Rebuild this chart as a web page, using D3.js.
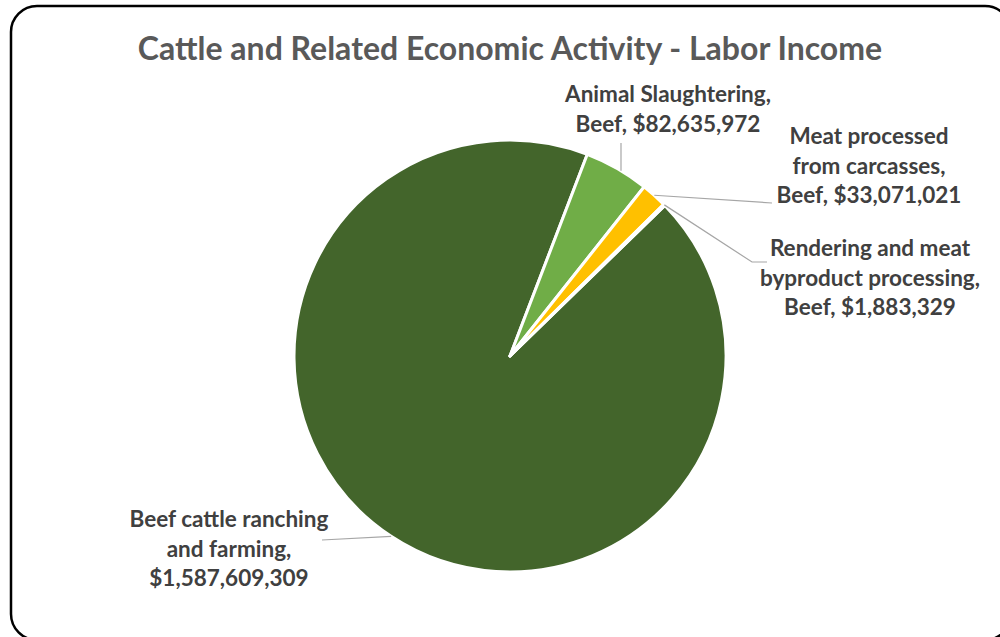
<!DOCTYPE html>
<html>
<head>
<meta charset="utf-8">
<script src="https://cdn.jsdelivr.net/npm/d3@7"></script>
<style>
  html, body { margin: 0; padding: 0; background: #fff; }
  svg { display: block; }
</style>
</head>
<body>
<svg id="chart" width="1000" height="637"></svg>
<script>
// Labor income by activity (USD)
const categories = [
  "Beef cattle ranching and farming",
  "Animal Slaughtering, Beef",
  "Meat processed from carcasses, Beef",
  "Rendering and meat byproduct processing, Beef"
];
const values = [1587609309, 82635972, 33071021, 1883329];
const labelLines = [
  ["Beef cattle ranching", "and farming,", "$1,587,609,309"],
  ["Animal Slaughtering,", "Beef, $82,635,972"],
  ["Meat processed", "from carcasses,", "Beef, $33,071,021"],
  ["Rendering and meat", "byproduct processing,", "Beef, $1,883,329"]
];
const colors = ["#43652B", "#70AD47", "#FFC000", "#8C8C8C"];

const title = "Cattle and Related Economic Activity - Labor Income";

const W = 1000, H = 637;
const cx = 510, cy = 356, R = 216;
const startDeg = 45.8;

const svg = d3.select("#chart");

// Chart frame with rounded corners
svg.append("rect")
  .attr("x", 11).attr("y", 6)
  .attr("width", 1000).attr("height", 634)
  .attr("rx", 26).attr("ry", 26)
  .attr("fill", "#fff")
  .attr("stroke", "#000")
  .attr("stroke-width", 2.5);

svg.append("text")
  .attr("x", 510).attr("y", 60)
  .attr("text-anchor", "middle")
  .attr("font-family", "Lato, 'Open Sans', sans-serif")
  .attr("font-weight", "bold")
  .attr("font-size", 32)
  .attr("fill", "#595959")
  .text(title);

const data = categories.map((c, i) => ({ name: c, value: values[i], lines: labelLines[i], color: colors[i] }));

const start = startDeg * Math.PI / 180;
const pie = d3.pie().sort(null).value(d => d.value)
  .startAngle(start).endAngle(start + 2 * Math.PI);
const arcs = pie(data);

const arc = d3.arc().innerRadius(0).outerRadius(R);

const g = svg.append("g").attr("transform", `translate(${cx},${cy})`);

g.selectAll("path.slice")
  .data(arcs)
  .join("path")
  .attr("class", "slice")
  .attr("d", arc)
  .attr("fill", d => d.data.color)
  .attr("stroke", "#fff")
  .attr("stroke-width", 3)
  .attr("stroke-linejoin", "round");

// Label placement (center x, first-line baseline y) and leader-line end points
const labelPos = [
  { x: 229, y: 527, leader: [[322, 540]] },
  { x: 668, y: 102, leader: [[621, 143]] },
  { x: 869, y: 144, leader: [[772, 203]] },
  { x: 870, y: 256, leader: [[752, 262], [767, 262]] }
];
const lineH = 29.5;

function outerPoint(d) {
  const a = (d.startAngle + d.endAngle) / 2;
  return [cx + R * Math.sin(a), cy - R * Math.cos(a)];
}

arcs.forEach((d, i) => {
  const p = labelPos[i];
  let pts = [outerPoint(d)].concat(p.leader);
  if (i === 1) {
    // vertical leader from the slice edge straight up
    const lx = p.leader[0][0];
    pts = [[lx, cy - Math.sqrt(R * R - (lx - cx) ** 2)], p.leader[0]];
  }
  svg.append("path")
    .attr("d", d3.line()(pts))
    .attr("fill", "none")
    .attr("stroke", "#A6A6A6")
    .attr("stroke-width", 1.2);

  const t = svg.append("text")
    .attr("text-anchor", "middle")
    .attr("font-family", "Lato, 'Open Sans', sans-serif")
    .attr("font-weight", "bold")
    .attr("font-size", 22.5)
    .attr("fill", "#404040");
  d.data.lines.forEach((ln, j) => {
    t.append("tspan").attr("x", p.x).attr("y", p.y + j * lineH).text(ln);
  });
});
</script>
</body>
</html>
